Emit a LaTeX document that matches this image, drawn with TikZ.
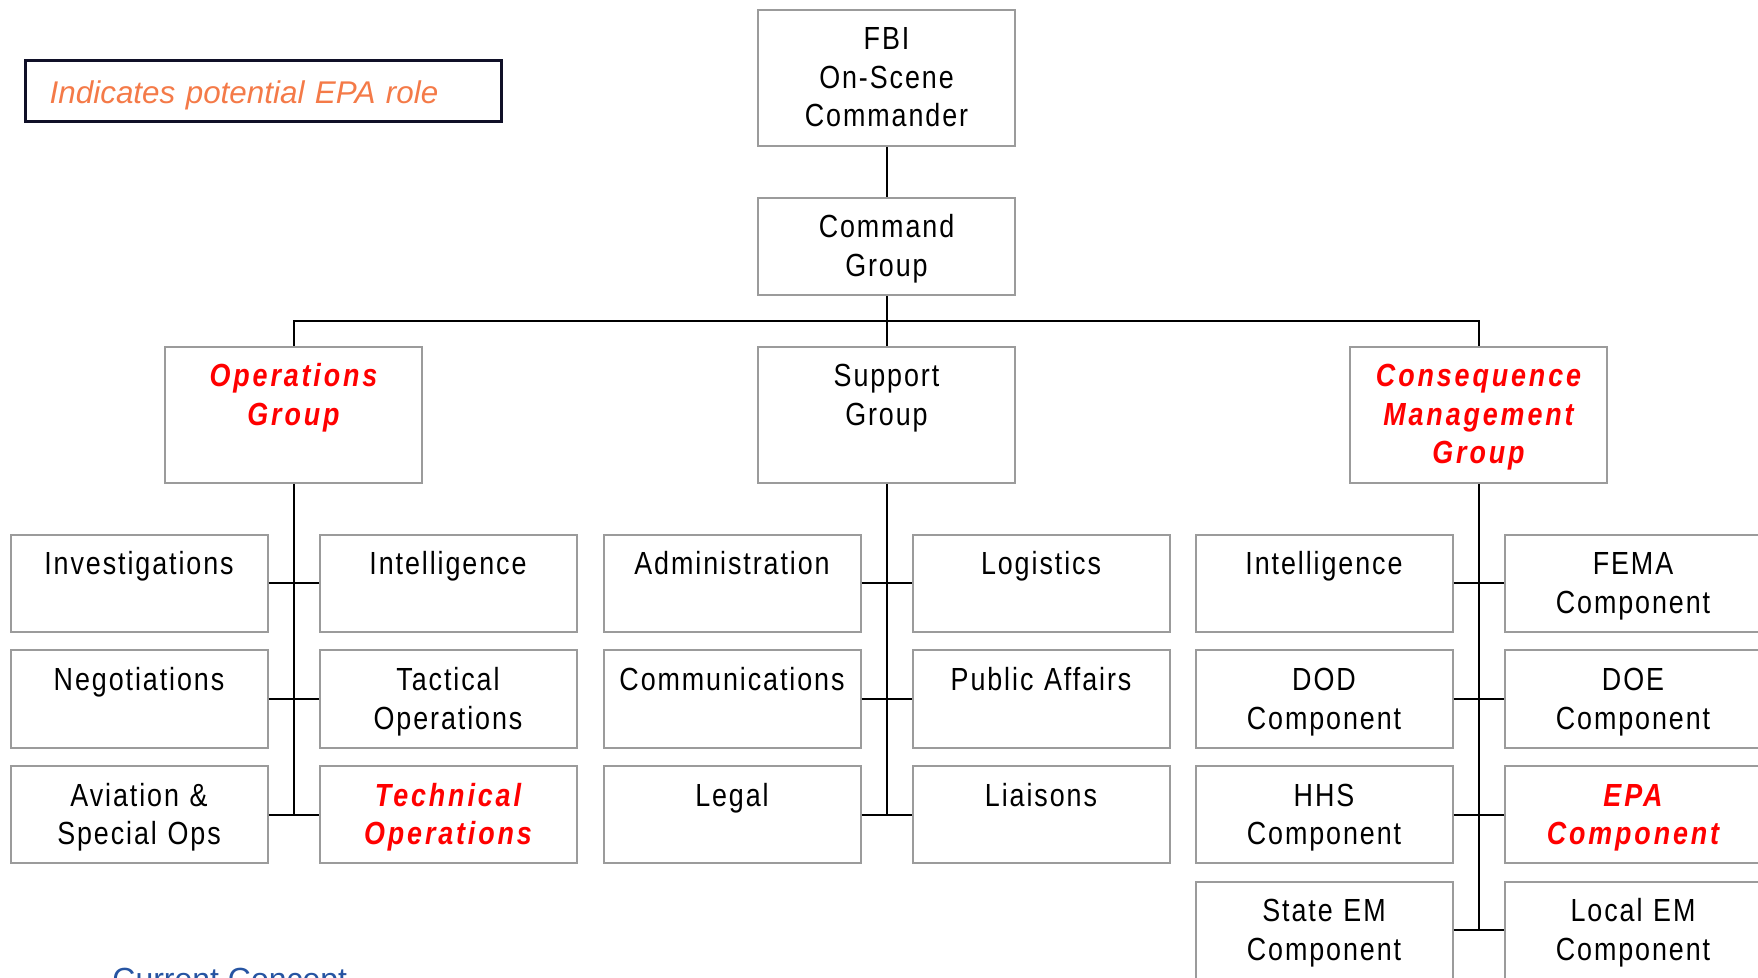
\documentclass[tikz,border=0pt]{standalone}
\usepackage{fontspec}
\setmainfont{Liberation Sans}
\newfontfamily\unitfont[FakeStretch=0.84,LetterSpace=6]{Liberation Sans}
\newfontfamily\rolefont[FakeStretch=0.84,LetterSpace=9]{Liberation Sans}
\definecolor{boxgray}{RGB}{155,155,155}
\definecolor{epared}{RGB}{255,0,0}
\definecolor{legendorange}{RGB}{244,122,72}
\definecolor{legendframe}{RGB}{16,16,40}
\definecolor{conceptblue}{RGB}{38,84,162}

\begin{document}
\begin{tikzpicture}[x=0.5pt,y=-0.5pt,
    unit_node/.style={draw=boxgray,line width=1pt,inner sep=0pt,text width=128.5pt,align=center,text height=20pt,text depth=28.5pt,font=\unitfont\fontsize{16pt}{19.25pt}\selectfont},
    group_node/.style={unit_node,text depth=48pt},
    epa_role/.style={text=epared,font=\rolefont\bfseries\itshape\fontsize{16pt}{19.25pt}\selectfont},
    link/.style={line width=1pt,black}]

    \clip (0,0) rectangle (1758,978);

    % legend and caption
    \node[draw=legendframe,line width=1.3pt,anchor=north west,inner xsep=12.2pt,inner ysep=0pt,text width=213.6pt,align=left,text height=21.2pt,text depth=9.15pt,text=legendorange,font=\itshape\fontsize{15.7pt}{19pt}\selectfont] (legend) at (24,59.5) {Indicates potential EPA role};
    \node[anchor=base west,inner sep=0pt,text=conceptblue,font=\fontsize{16pt}{19pt}\selectfont] (concept) at (112,990) {Current Concept};

    % top of the chart
    \node[group_node] (fbi) at (886.5,78) {FBI\\On-Scene\\Commander};
    \node[unit_node] (cmd) at (886.5,246.5) {Command\\Group};
    \node[group_node,epa_role] (ops) at (293.5,415) {Operations\\Group};
    \node[group_node] (sup) at (886.5,415) {Support\\Group};
    \node[group_node,epa_role] (cons) at (1478.5,415) {Consequence\\Management\\Group};

    % operations group
    \node[unit_node] (inv) at (139,583.5) {Investigations};
    \node[unit_node] (intel) at (448,583.5) {Intelligence};
    \node[unit_node] (nego) at (139,699) {Negotiations};
    \node[unit_node] (tact) at (448,699) {Tactical\\Operations};
    \node[unit_node] (avia) at (139,814.5) {Aviation \&\\Special Ops};
    \node[unit_node,epa_role] (tech) at (448,814.5) {Technical\\Operations};

    % support group
    \node[unit_node] (admin) at (732,583.5) {Administration};
    \node[unit_node] (logi) at (1041,583.5) {Logistics};
    \node[unit_node] (comm) at (732,699) {Communications};
    \node[unit_node] (pub) at (1041,699) {Public Affairs};
    \node[unit_node] (legal) at (732,814.5) {Legal};
    \node[unit_node] (liai) at (1041,814.5) {Liaisons};

    % consequence management group
    \node[unit_node] (cintel) at (1324,583.5) {Intelligence};
    \node[unit_node] (fema) at (1633,583.5) {FEMA\\Component};
    \node[unit_node] (dod) at (1324,699) {DOD\\Component};
    \node[unit_node] (doe) at (1633,699) {DOE\\Component};
    \node[unit_node] (hhs) at (1324,814.5) {HHS\\Component};
    \node[unit_node,epa_role] (epa) at (1633,814.5) {EPA\\Component};
    \node[unit_node] (state) at (1324,930) {State EM\\Component};
    \node[unit_node] (local) at (1633,930) {Local EM\\Component};

    \coordinate (bus) at (886.5,321);

    \draw[link] (fbi) -- (cmd);
    \draw[link] (cmd) -- (sup);
    \draw[link] (ops.north) |- (bus) -| (cons.north);

    \draw[link] (ops.south) -- (ops.south |- avia.east);
    \draw[link] (inv.east) -- (intel.west);
    \draw[link] (nego.east) -- (tact.west);
    \draw[link] (avia.east) -- (tech.west);

    \draw[link] (sup.south) -- (sup.south |- legal.east);
    \draw[link] (admin.east) -- (logi.west);
    \draw[link] (comm.east) -- (pub.west);
    \draw[link] (legal.east) -- (liai.west);

    \draw[link] (cons.south) -- (cons.south |- state.east);
    \draw[link] (cintel.east) -- (fema.west);
    \draw[link] (dod.east) -- (doe.west);
    \draw[link] (hhs.east) -- (epa.west);
    \draw[link] (state.east) -- (local.west);
\end{tikzpicture}
\end{document}
